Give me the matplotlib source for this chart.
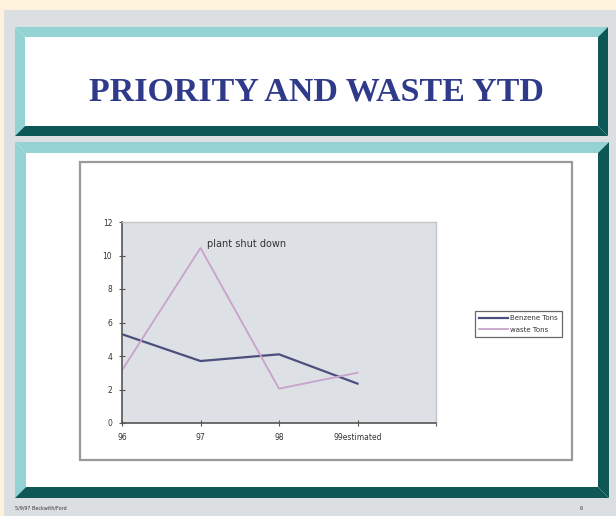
import matplotlib
matplotlib.use("Agg")
import matplotlib.pyplot as plt
from matplotlib.patches import Polygon, Rectangle

categories = ["96", "97", "98", "99estimated"]
benzene_tons = [5.3, 3.7, 4.1, 2.35]
waste_tons = [3.15, 10.45, 2.05, 3.0]
series_names = ["Benzene Tons", "waste Tons"]
y_ticks = [0, 2, 4, 6, 8, 10, 12]
title = "PRIORITY AND WASTE YTD"
annotation = "plant shut down"
footer_left = "5/9/97 Beckwith/Ford"
footer_right = "6"

W, H = 616, 516
fig = plt.figure(figsize=(W / 100, H / 100), dpi=100)
fig.patch.set_facecolor("#FFF2DC")


def P(x, y):
    return (x / W, 1 - y / H)


def poly(pts, color, z=0):
    fig.patches.append(Polygon([P(*p) for p in pts], closed=True, transform=fig.transFigure,
                               facecolor=color, edgecolor="none", zorder=z))


def rect(x0, y0, x1, y1, face, edge="none", lw=0, z=0):
    fig.patches.append(Rectangle(P(x0, y1), (x1 - x0) / W, (y1 - y0) / H, transform=fig.transFigure,
                                 facecolor=face, edgecolor=edge, linewidth=lw, zorder=z))


# slide background
rect(4, 10, 616, 516, "#DCDFE1")

LIGHT = "#93D3D3"
DARK = "#0D5756"


def bevel(x0, y0, x1, y1, b):
    rect(x0, y0, x1, y1, "white")
    poly([(x0, y0), (x1, y0), (x1 - b, y0 + b), (x0 + b, y0 + b)], LIGHT)
    poly([(x0, y0), (x0 + b, y0 + b), (x0 + b, y1 - b), (x0, y1)], LIGHT)
    poly([(x1, y0), (x1, y1), (x1 - b, y1 - b), (x1 - b, y0 + b)], DARK)
    poly([(x0, y1), (x1, y1), (x1 - b, y1 - b), (x0 + b, y1 - b)], DARK)


bevel(15, 27, 608, 136, 10)
bevel(15, 142, 609, 498, 11)

fig.text(*P(316, 92), title, ha="center", va="center", fontsize=24.5, fontweight="bold",
         family="Liberation Serif", color="#2F3A8A")

# chart area frame
rect(80, 162, 572, 460, "white", edge="#9A9A9A", lw=1.6, z=1)

ax = fig.add_axes([122 / W, 1 - 423 / H, (436 - 122) / W, (423 - 222) / H])
ax.set_zorder(3)
ax.set_facecolor("#DDE0E4")
x = list(range(len(categories)))
ax.plot(x, benzene_tons, color="#4B4F7E", lw=1.6, label=series_names[0])
ax.plot(x, waste_tons, color="#C9A2CC", lw=1.3, label=series_names[1])
ax.set_xlim(0, 4)
ax.set_ylim(0, 12)
ax.set_xticks([0, 1, 2, 3, 4])
ax.set_xticklabels(categories + [""], fontsize=5.5)
ax.set_yticks(y_ticks)
ax.set_yticklabels([str(v) for v in y_ticks], fontsize=5.5)
ax.tick_params(axis="both", direction="inout", length=4, width=0.8, color="#555555", pad=5,
               labelcolor="#333333")
for s in ["left", "bottom"]:
    ax.spines[s].set_color("#555555")
    ax.spines[s].set_linewidth(1.2)
for s in ["top", "right"]:
    ax.spines[s].set_color("#C4C6C8")
    ax.spines[s].set_linewidth(1.0)
ax.annotate(annotation, xy=(1, waste_tons[1]), xytext=(207, H - 244), textcoords="figure pixels",
            fontsize=7, va="center", ha="left", color="#333333")

leg = ax.legend(loc="center", bbox_to_anchor=(518.5 / W, 1 - 324 / H), bbox_transform=fig.transFigure,
                fontsize=5, frameon=True, fancybox=False, edgecolor="#444444", handlelength=4.2,
                borderpad=0.6, labelspacing=0.8, handletextpad=0.3)
leg.get_frame().set_linewidth(0.9)
for t in leg.get_texts():
    t.set_color("#333333")

fig.text(*P(15, 508), footer_left, fontsize=3.5, va="center", ha="left", color="#333333")
fig.text(*P(580, 508), footer_right, fontsize=3.5, va="center", ha="left", color="#333333")

fig.savefig("out.png", dpi=100, facecolor=fig.get_facecolor())
